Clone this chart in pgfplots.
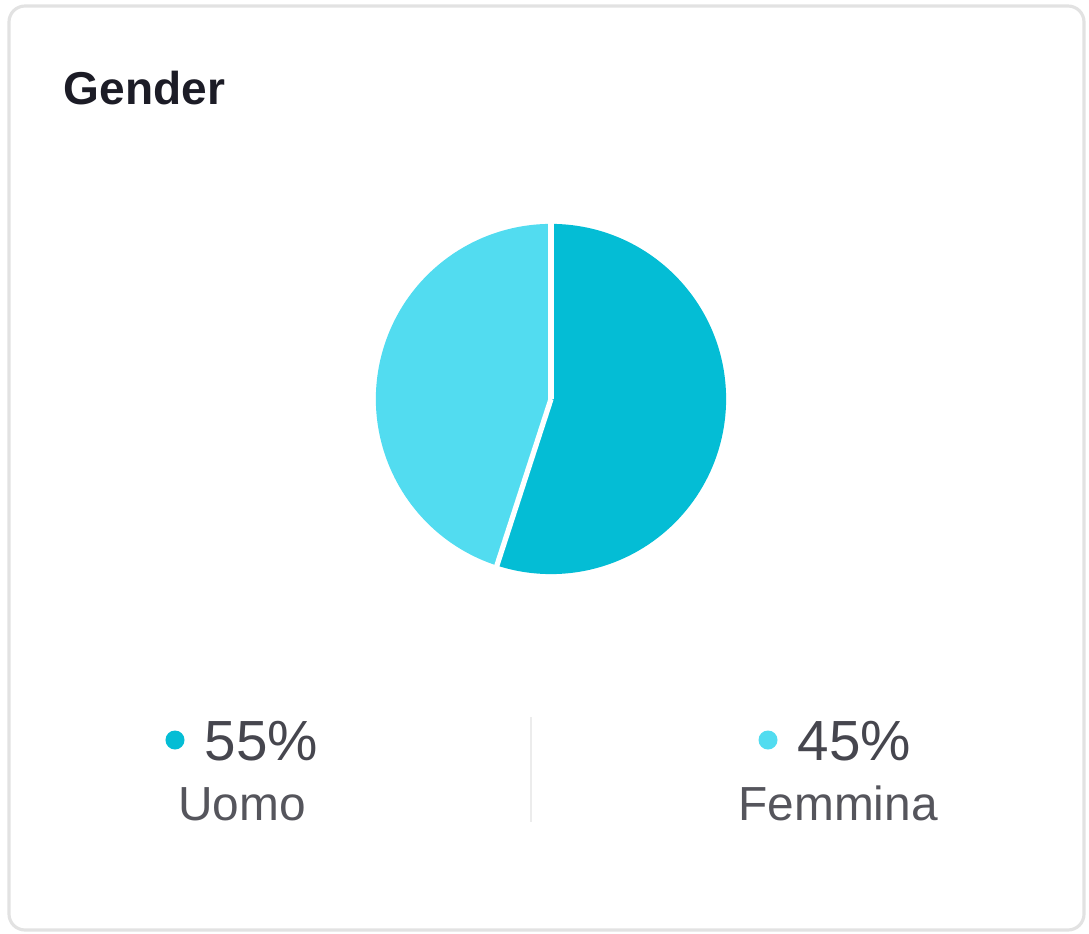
\documentclass[border=0pt]{standalone}
\usepackage{pgfplots}
\usepackage{pgfplotstable}
\pgfplotsset{compat=1.18}
\usepackage{fontspec}
\setmainfont{Liberation Sans}

\definecolor{uomo}{RGB}{4,189,213}
\definecolor{femmina}{RGB}{82,220,240}
\definecolor{titlec}{RGB}{28,28,38}
\definecolor{numc}{RGB}{70,70,78}
\definecolor{labc}{RGB}{85,85,92}
\definecolor{cardc}{RGB}{226,226,226}
\definecolor{divc}{RGB}{236,236,236}

% gender split, percent
\pgfplotstableread{
label value
Uomo 55
Femmina 45
}\gender
\pgfplotstablegetelem{0}{value}\of\gender \let\vu\pgfplotsretval
\pgfplotstablegetelem{1}{value}\of\gender \let\vf\pgfplotsretval
\pgfmathsetmacro\endu{90-3.6*\vu}

\begin{document}%
\begin{tikzpicture}
\begin{axis}[
  x=0.01cm, y=0.01cm,
  xmin=0, xmax=1089, ymin=0, ymax=933,
  hide axis, clip=false,
]
\coordinate (bl) at (axis cs:0,0);
\coordinate (tr) at (axis cs:1089,933);
% card
\draw[cardc, line width=0.9pt, rounded corners=0.16cm]
  (axis cs:9,3) rectangle (axis cs:1084,927);
\node[anchor=base west, inner sep=0, text=titlec]
  at (axis cs:63,828) {\fontsize{13.1pt}{15pt}\selectfont\bfseries Gender};
% pie
\fill[uomo] (axis cs:551,534) -- ++(90:1.75cm)
  arc[start angle=90, end angle=\endu, radius=1.75cm] -- cycle;
\fill[femmina] (axis cs:551,534) -- ++(\endu:1.75cm)
  arc[start angle=\endu, end angle=-270, radius=1.75cm] -- cycle;
\draw[white, line width=1.5pt] (axis cs:551,534) -- ++(90:1.8cm);
\draw[white, line width=1.5pt] (axis cs:551,534) -- ++(\endu:1.8cm);
% legend
\addplot[only marks, mark=*, mark size=2.5pt, color=uomo] coordinates {(175,193)};
\addplot[only marks, mark=*, mark size=2.5pt, color=femmina] coordinates {(768,193)};
\node[anchor=base west, inner sep=0, text=numc]
  at (axis cs:204,173) {\fontsize{16.1pt}{18pt}\selectfont \vu\%};
\node[anchor=base west, inner sep=0, text=numc]
  at (axis cs:797,173) {\fontsize{16.1pt}{18pt}\selectfont \vf\%};
\node[anchor=base, inner sep=0, text=labc]
  at (axis cs:242,113) {\fontsize{13.6pt}{16pt}\selectfont Uomo};
\node[anchor=base, inner sep=0, text=labc]
  at (axis cs:838,113) {\fontsize{13.6pt}{16pt}\selectfont Femmina};
\draw[divc, line width=0.4pt] (axis cs:531,216) -- (axis cs:531,111);
\end{axis}
\pgfresetboundingbox
\useasboundingbox (bl) rectangle (tr);
\end{tikzpicture}%
\end{document}
